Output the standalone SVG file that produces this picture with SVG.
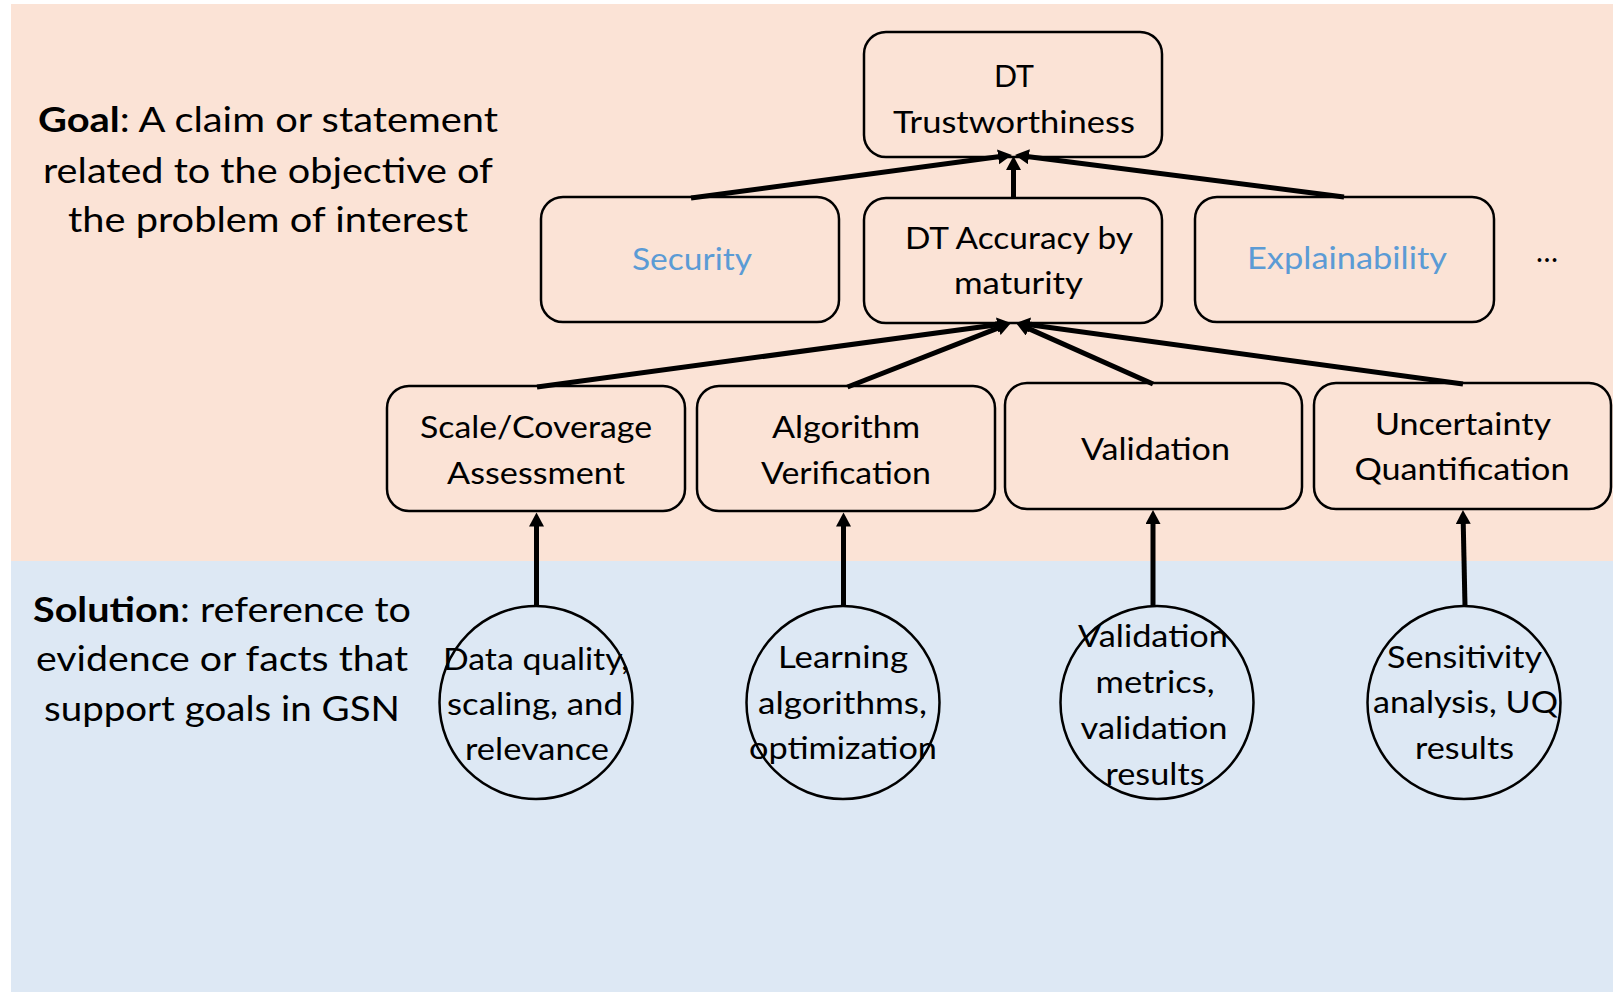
<svg xmlns="http://www.w3.org/2000/svg" width="1613" height="993" viewBox="0 0 1613 993">
  <defs>
    <style>
      .box { fill: none; stroke: #000; stroke-width: 2.5; }
      .sol { fill: none; stroke: #000; stroke-width: 2.5; }
      .lbl { font-family: Lato, "Liberation Sans", sans-serif; font-size: 30px; fill: #000; text-anchor: middle; }
      .blue { fill: #5B9BD5; }
      .note { font-family: Lato, "Liberation Sans", sans-serif; font-size: 35px; fill: #000; text-anchor: middle; }
      .b { font-weight: bold; }
      .link { stroke: #000; stroke-width: 5; fill: none; marker-end: url(#head); }
    </style>
    <marker id="head" markerUnits="userSpaceOnUse" markerWidth="16" markerHeight="16" viewBox="0 0 16 16" refX="2" refY="7.5" orient="auto">
      <path d="M0,0 L14,7.5 L0,15 z" fill="#000"/>
    </marker>
  </defs>

  <!-- background bands -->
  <rect x="0" y="0" width="1613" height="993" fill="#FFFFFF"/>
  <rect x="11" y="4" width="1602" height="557" fill="#FBE3D6"/>
  <rect x="11" y="561" width="1602" height="431" fill="#DDE8F4"/>

  <!-- side notes -->
  <g id="goal-note">
    <text class="note" x="268" y="132" textLength="460" lengthAdjust="spacingAndGlyphs"><tspan class="b">Goal</tspan>: A claim or statement</text>
    <text class="note" x="268" y="183" textLength="450" lengthAdjust="spacingAndGlyphs">related to the objective of</text>
    <text class="note" x="268" y="232" textLength="400" lengthAdjust="spacingAndGlyphs">the problem of interest</text>
  </g>
  <g id="solution-note">
    <text class="note" x="222" y="622" textLength="378" lengthAdjust="spacingAndGlyphs"><tspan class="b">Solution</tspan>: reference to</text>
    <text class="note" x="222" y="671" textLength="372" lengthAdjust="spacingAndGlyphs">evidence or facts that</text>
    <text class="note" x="222" y="721" textLength="356" lengthAdjust="spacingAndGlyphs">support goals in GSN</text>
  </g>

  <!-- connectors -->
  <g id="connectors">
    <line class="link" x1="691" y1="198" x2="1000.1" y2="156.6"/>
    <line class="link" x1="1013.5" y1="198" x2="1013.5" y2="168"/>
    <line class="link" x1="1344" y1="197" x2="1026.9" y2="156.5"/>

    <line class="link" x1="537" y1="387" x2="999.1" y2="324.6"/>
    <line class="link" x1="847.5" y1="387" x2="999.8" y2="327.4"/>
    <line class="link" x1="1153" y1="384" x2="1027" y2="327.9"/>
    <line class="link" x1="1463" y1="384" x2="1027.9" y2="324.6"/>

    <line class="link" x1="536.5" y1="606" x2="536.5" y2="524.5"/>
    <line class="link" x1="843.5" y1="606" x2="843.5" y2="524.5"/>
    <line class="link" x1="1153" y1="606" x2="1153" y2="522"/>
    <line class="link" x1="1465" y1="606" x2="1463.2" y2="522"/>
  </g>

  <!-- goals -->
  <g id="dt-trustworthiness">
    <rect class="box" x="864" y="32" width="298" height="125" rx="22"/>
    <text class="lbl" x="1014" y="87" textLength="40" lengthAdjust="spacingAndGlyphs">DT</text>
    <text class="lbl" x="1014" y="133" textLength="242" lengthAdjust="spacingAndGlyphs">Trustworthiness</text>
  </g>
  <g id="security">
    <rect class="box" x="541" y="197" width="298" height="125" rx="22"/>
    <text class="lbl blue" x="692" y="270" textLength="120" lengthAdjust="spacingAndGlyphs">Security</text>
  </g>
  <g id="dt-accuracy">
    <rect class="box" x="864" y="198" width="298" height="125" rx="22"/>
    <text class="lbl" x="1019" y="249" textLength="228" lengthAdjust="spacingAndGlyphs">DT Accuracy by</text>
    <text class="lbl" x="1018.5" y="294" textLength="129" lengthAdjust="spacingAndGlyphs">maturity</text>
  </g>
  <g id="explainability">
    <rect class="box" x="1195" y="197" width="299" height="125" rx="22"/>
    <text class="lbl blue" x="1347" y="269" textLength="200" lengthAdjust="spacingAndGlyphs">Explainability</text>
  </g>
  <g id="more">
    <text class="lbl" x="1547" y="262" textLength="22" lengthAdjust="spacingAndGlyphs">…</text>
  </g>

  <g id="scale-coverage">
    <rect class="box" x="387" y="386" width="298" height="125" rx="22"/>
    <text class="lbl" x="536" y="438" textLength="232" lengthAdjust="spacingAndGlyphs">Scale/Coverage</text>
    <text class="lbl" x="536" y="484" textLength="178" lengthAdjust="spacingAndGlyphs">Assessment</text>
  </g>
  <g id="algorithm-verification">
    <rect class="box" x="697" y="386" width="298" height="125" rx="22"/>
    <text class="lbl" x="846" y="438" textLength="148" lengthAdjust="spacingAndGlyphs">Algorithm</text>
    <text class="lbl" x="846" y="484" textLength="170" lengthAdjust="spacingAndGlyphs">Verification</text>
  </g>
  <g id="validation">
    <rect class="box" x="1005" y="383" width="297" height="126" rx="22"/>
    <text class="lbl" x="1155.5" y="460" textLength="149" lengthAdjust="spacingAndGlyphs">Validation</text>
  </g>
  <g id="uncertainty-quantification">
    <rect class="box" x="1314" y="383" width="297" height="126" rx="22"/>
    <text class="lbl" x="1463" y="435" textLength="176" lengthAdjust="spacingAndGlyphs">Uncertainty</text>
    <text class="lbl" x="1462" y="480" textLength="215" lengthAdjust="spacingAndGlyphs">Quantification</text>
  </g>

  <!-- solutions -->
  <g id="sol-data">
    <circle class="sol" cx="536" cy="702.5" r="96.5"/>
    <text class="lbl" x="536" y="670" textLength="186" lengthAdjust="spacingAndGlyphs">Data quality,</text>
    <text class="lbl" x="535" y="715" textLength="176" lengthAdjust="spacingAndGlyphs">scaling, and</text>
    <text class="lbl" x="537" y="760" textLength="144" lengthAdjust="spacingAndGlyphs">relevance</text>
  </g>
  <g id="sol-learning">
    <circle class="sol" cx="843" cy="702.5" r="96.5"/>
    <text class="lbl" x="843" y="668" textLength="130" lengthAdjust="spacingAndGlyphs">Learning</text>
    <text class="lbl" x="842.5" y="714" textLength="169" lengthAdjust="spacingAndGlyphs">algorithms,</text>
    <text class="lbl" x="843" y="759" textLength="188" lengthAdjust="spacingAndGlyphs">optimization</text>
  </g>
  <g id="sol-validation">
    <circle class="sol" cx="1157" cy="702.5" r="96.5"/>
    <text class="lbl" x="1153" y="647" textLength="150" lengthAdjust="spacingAndGlyphs">Validation</text>
    <text class="lbl" x="1155" y="693" textLength="119" lengthAdjust="spacingAndGlyphs">metrics,</text>
    <text class="lbl" x="1154" y="739" textLength="147" lengthAdjust="spacingAndGlyphs">validation</text>
    <text class="lbl" x="1155" y="785" textLength="99" lengthAdjust="spacingAndGlyphs">results</text>
  </g>
  <g id="sol-sensitivity">
    <circle class="sol" cx="1464" cy="702.5" r="96.5"/>
    <text class="lbl" x="1464.5" y="668" textLength="155" lengthAdjust="spacingAndGlyphs">Sensitivity</text>
    <text class="lbl" x="1465.5" y="713" textLength="185" lengthAdjust="spacingAndGlyphs">analysis, UQ</text>
    <text class="lbl" x="1464.5" y="759" textLength="99" lengthAdjust="spacingAndGlyphs">results</text>
  </g>
</svg>
